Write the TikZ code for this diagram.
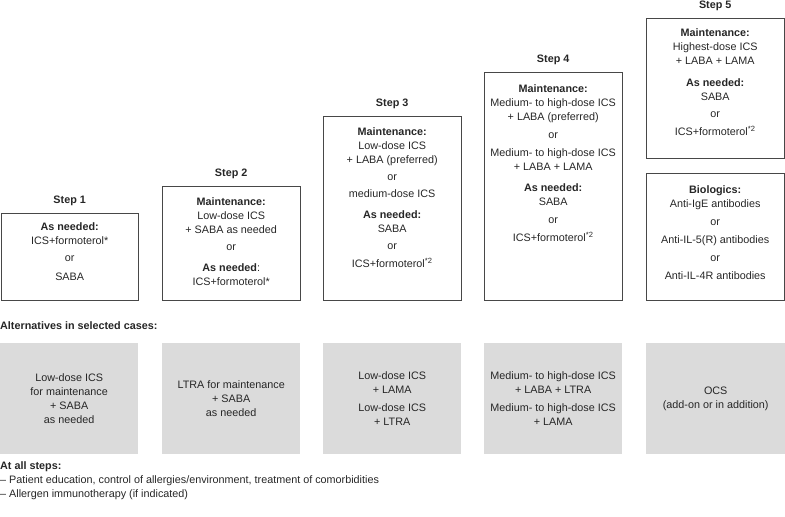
\documentclass[tikz,border=0pt]{standalone}
\usepackage{fontspec}
\setmainfont{Liberation Sans}
\usetikzlibrary{positioning}
\tikzset{
	txt/.style={text=black!85, font=\fontsize{10.8}{14}\selectfont},
	stepbox/.style={draw=black!72, line width=0.9pt, anchor=north west, minimum width=137.5pt, inner sep=0pt},
	boxtext/.style={txt, align=center, inner sep=0pt},
	altbox/.style={txt, fill=black!14, align=center, anchor=north west, minimum width=138pt, minimum height=111pt, inner sep=0pt},
	steplabel/.style={txt, font=\bfseries\fontsize{10.8}{14}\selectfont, inner sep=0pt},
	plain/.style={txt, inner sep=0pt, align=left}
}
\begin{document}
\begin{tikzpicture}[x=1pt, y=-1pt]
		\useasboundingbox ( 0, 0 ) rectangle ( 785, 517 );

		% step 1
		\node [stepbox, minimum height=87pt] (s1) at ( 0.5, 213 ) {};
		\node [steplabel, above=7pt of s1] (l1) {Step 1};
		\node [boxtext, below=9pt of s1.north] (t1) {\textbf{As needed:}\\ ICS+formoterol*\\[3pt] or\\[5pt] SABA};

		% step 2
		\node [stepbox, minimum height=114pt] (s2) at ( 162, 186 ) {};
		\node [steplabel, above=7pt of s2] (l2) {Step 2};
		\node [boxtext, below=11pt of s2.north] (t2) {\textbf{Maintenance:}\\ Low-dose ICS\\ + SABA as needed\\[3pt] or\\[7pt] \textbf{As needed}:\\ ICS+formoterol*};

		% step 3
		\node [stepbox, minimum height=184pt] (s3) at ( 323, 116 ) {};
		\node [steplabel, above=7pt of s3] (l3) {Step 3};
		\node [boxtext, below=11pt of s3.north] (t3) {\textbf{Maintenance:}\\ Low-dose ICS\\ + LABA (preferred)\\[3pt] or\\[3pt] medium-dose ICS\\[7pt] \textbf{As needed:}\\ SABA\\[3pt] or\\[4pt] ICS+formoterol\textsuperscript{*2}};

		% step 4
		\node [stepbox, minimum height=228pt] (s4) at ( 484, 72 ) {};
		\node [steplabel, above=7pt of s4] (l4) {Step 4};
		\node [boxtext, below=12pt of s4.north] (t4) {\textbf{Maintenance:}\\ Medium- to high-dose ICS\\ + LABA (preferred)\\[4pt] or\\[4pt] Medium- to high-dose ICS\\ + LABA + LAMA\\[7pt] \textbf{As needed:}\\ SABA\\[4pt] or\\[4pt] ICS+formoterol\textsuperscript{*2}};

		% step 5
		\node [stepbox, minimum height=140pt] (s5) at ( 646, 18 ) {};
		\node [steplabel, above=7pt of s5] (l5) {Step 5};
		\node [boxtext, below=10pt of s5.north] (t5) {\textbf{Maintenance:}\\ Highest-dose ICS\\ + LABA + LAMA\\[8pt] \textbf{As needed:}\\ SABA\\[3pt] or\\[4pt] ICS+formoterol\textsuperscript{*2}};
		\node [stepbox, minimum height=127pt] (b5) at ( 646, 173 ) {};
		\node [boxtext, below=12pt of b5.north] (tb5) {\textbf{Biologics:}\\ Anti-IgE antibodies\\[4pt] or\\[4pt] Anti-IL-5(R) antibodies\\[4pt] or\\[4pt] Anti-IL-4R antibodies};

		% alternatives
		\node [plain, anchor=west, font=\bfseries\fontsize{10.8}{14}\selectfont] (alt) at ( 0, 326 ) {Alternatives in selected cases:};
		\node [altbox] (a1) at ( 0, 343 ) {Low-dose ICS\\ for maintenance\\ + SABA\\ as needed};
		\node [altbox] (a2) at ( 162, 343 ) {LTRA for maintenance\\ + SABA\\ as needed};
		\node [altbox] (a3) at ( 323, 343 ) {Low-dose ICS\\ + LAMA\\[4pt] Low-dose ICS\\ + LTRA};
		\node [altbox] (a4) at ( 484, 343 ) {Medium- to high-dose ICS\\ + LABA + LTRA\\[4pt] Medium- to high-dose ICS\\ + LAMA};
		\node [altbox, minimum width=139pt] (a5) at ( 646, 343 ) {OCS\\ (add-on or in addition)};

		% all steps
		\node [plain, anchor=north west] (all) at ( 0, 461 ) {\textbf{At all steps:}\\ -- Patient education, control of allergies/environment, treatment of comorbidities\\ -- Allergen immunotherapy (if indicated)};
\end{tikzpicture}
\end{document}
